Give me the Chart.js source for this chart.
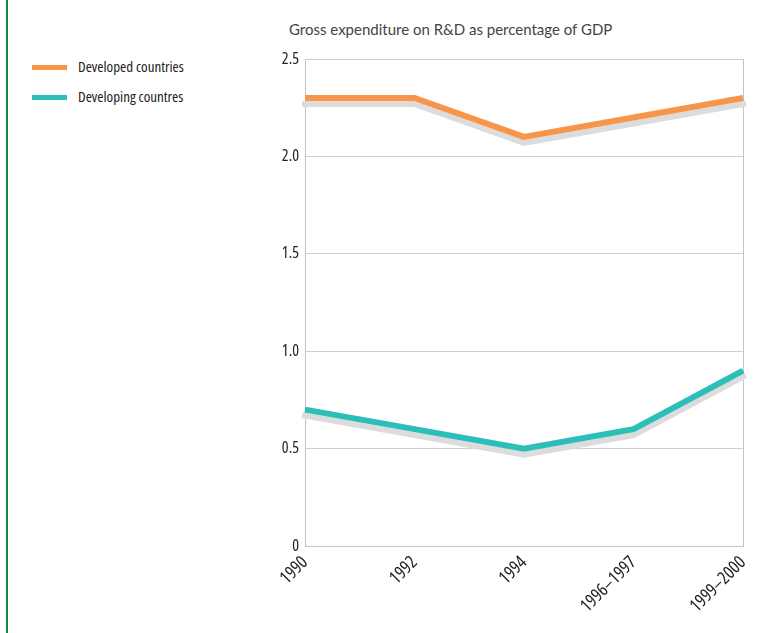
<!DOCTYPE html>
<html>
<head>
<meta charset="utf-8">
<script src="https://cdn.jsdelivr.net/npm/chart.js@4/dist/chart.umd.min.js"></script>
<style>
  html, body { margin: 0; padding: 0; background: #fff; }
  #wrap { position: relative; width: 767px; height: 633px; overflow: hidden; }
  #rule { position: absolute; left: 6px; top: 0; width: 2px; height: 633px; background: #17873c; }
  #subtitle { position: absolute; left: 289px; top: 20px; font: 15px Lato, "Noto Sans", sans-serif; color: #444; white-space: nowrap; }
  #legend { position: absolute; left: 32px; top: 56px; font-family: "Open Sans", sans-serif; font-stretch: condensed; font-size: 15px; color: #222; }
  .item { position: relative; height: 30px; }
  .swatch { position: absolute; left: 0; top: 9px; width: 35px; height: 5px; }
  .label { position: absolute; left: 46px; top: 0px; white-space: nowrap; }
  canvas { position: absolute; left: 0; top: 0; }
</style>
</head>
<body>
<div id="wrap">
  <div id="rule"></div>
  <div id="subtitle">Gross expenditure on R&amp;D as percentage of GDP</div>
  <div id="legend"></div>
  <canvas id="c" width="767" height="633"></canvas>
</div>
<script>
const categories = ['1990', '1992', '1994', '1996–1997', '1999–2000'];
const developed = [2.3, 2.3, 2.1, 2.2, 2.3];
const developing = [0.7, 0.6, 0.5, 0.6, 0.9];
const seriesNames = ['Developed countries', 'Developing countres'];
const seriesColors = ['#f7964a', '#2cbfb9'];
const yTickLabels = ['0', '0.5', '1.0', '1.5', '2.0', '2.5'];

// condensed face for the axis labels (stretch keyword carried in the weight slot of the font string)
const xTickFont = { family: '"Open Sans", sans-serif', size: 18, weight: 'condensed' };
const yTickFont = { family: '"Open Sans", sans-serif', size: 16, weight: 'condensed' };

// legend
const legend = document.getElementById('legend');
seriesNames.forEach((name, i) => {
  const item = document.createElement('div');
  item.className = 'item';
  const sw = document.createElement('div');
  sw.className = 'swatch';
  sw.style.background = seriesColors[i];
  const lb = document.createElement('div');
  lb.className = 'label';
  lb.textContent = name;
  item.appendChild(sw);
  item.appendChild(lb);
  legend.appendChild(item);
});

// grey drop line under each series
const dropLine = {
  id: 'dropLine',
  beforeDatasetsDraw(chart) {
    const ctx = chart.ctx;
    chart.data.datasets.forEach((ds, i) => {
      const meta = chart.getDatasetMeta(i);
      if (meta.hidden) return;
      ctx.save();
      ctx.beginPath();
      meta.data.forEach((pt, j) => {
        if (j === 0) ctx.moveTo(pt.x, pt.y + 6);
        else ctx.lineTo(pt.x, pt.y + 6);
      });
      ctx.strokeStyle = '#dcdcdc';
      ctx.lineWidth = 6;
      ctx.lineCap = 'square';
      ctx.lineJoin = 'miter';
      ctx.stroke();
      ctx.restore();
    });
  }
};

new Chart(document.getElementById('c'), {
  type: 'line',
  data: {
    labels: categories,
    datasets: [
      { label: seriesNames[0], data: developed, borderColor: seriesColors[0], backgroundColor: seriesColors[0] },
      { label: seriesNames[1], data: developing, borderColor: seriesColors[1], backgroundColor: seriesColors[1] }
    ]
  },
  options: {
    responsive: false,
    devicePixelRatio: 1,
    animation: false,
    layout: { padding: { top: 59, right: 24, left: 0, bottom: 0 } },
    elements: {
      line: { borderWidth: 6, tension: 0, borderCapStyle: 'butt', borderJoinStyle: 'miter', fill: false },
      point: { radius: 0, hoverRadius: 0 }
    },
    plugins: {
      legend: { display: false },
      tooltip: { enabled: false }
    },
    scales: {
      x: {
        offset: false,
        grid: {
          drawTicks: false,
          color: (c) => (c.index === 0 || c.index === categories.length - 1) ? '#c4c4c4' : 'rgba(0,0,0,0)'
        },
        border: { color: '#c4c4c4' },
        ticks: {
          minRotation: 45, maxRotation: 45, padding: 6,
          color: '#222', font: xTickFont
        },
        afterFit(scale) { scale.height = 87; }
      },
      y: {
        min: 0, max: 2.5,
        grid: { drawTicks: false, color: '#cfcfcf' },
        border: { color: '#c4c4c4' },
        ticks: {
          stepSize: 0.5, padding: 6, color: '#222',
          font: yTickFont,
          callback: (v, i) => yTickLabels[i]
        },
        afterFit(scale) { scale.width = 305; }
      }
    }
  },
  plugins: [dropLine]
});
</script>
</body>
</html>
